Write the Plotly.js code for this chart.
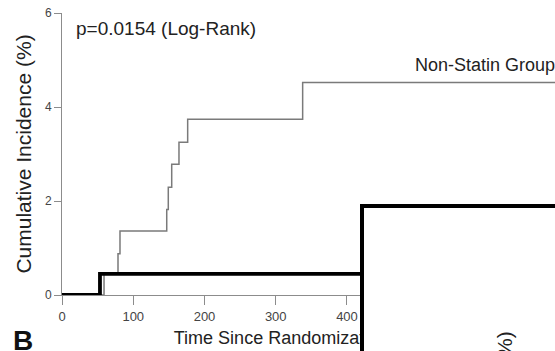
<!DOCTYPE html>
<html>
<head>
<meta charset="utf-8">
<script src="https://cdn.plot.ly/plotly-3.0.1.min.js"></script>
<style>
  html, body { margin: 0; padding: 0; background: #ffffff; }
  #chart { width: 555px; height: 351px; }
</style>
</head>
<body>
<div id="chart"></div>
<script>
// Non-Statin Group: step times (days) and cumulative incidence (%)
const nonStatinDays = [0, 59, 78.6, 81.4, 147, 149.2, 154, 164.2, 176.4, 337.8, 692];
const nonStatinPct  = [0, 0.45, 0.88, 1.36, 1.82, 2.29, 2.78, 3.25, 3.74, 4.52, 4.52];
// Statin Group
const statinDays = [0, 53.3, 692];
const statinPct  = [0, 0.45, 0.45];

const xTicks = [0, 100, 200, 300, 400, 500, 600];
const yTicks = [0, 2, 4, 6];

const pText = "p=0.0154 (Log-Rank)";
const groupLabel = "Non-Statin Group";
const xTitle = "Time Since Randomization (days)";
const yTitle = "Cumulative Incidence (%)";
const panelLabel = "B";

const traces = [
  {
    x: nonStatinDays, y: nonStatinPct, type: 'scatter', mode: 'lines',
    line: { shape: 'hv', color: '#7a7a7a', width: 1.5 },
    name: 'Non-Statin Group', hoverinfo: 'skip'
  },
  {
    x: statinDays, y: statinPct, type: 'scatter', mode: 'lines',
    line: { shape: 'hv', color: '#000000', width: 3.8 },
    name: 'Statin Group', hoverinfo: 'skip'
  }
];

const W = 555, H = 351;
const L = 62, R = 0, T = 13, B = 56;
const pw = W - L - R, ph = H - T - B;
function px(xp) { return (xp - L) / pw; }
function py(yp) { return (H - B - yp) / ph; }

const layout = {
  width: W, height: H,
  margin: { l: L, r: R, t: T, b: B, pad: 0 },
  paper_bgcolor: '#ffffff', plot_bgcolor: '#ffffff',
  showlegend: false,
  font: { family: '"Liberation Sans", Arial, sans-serif', color: '#333333' },
  xaxis: {
    range: [0, 692], tickvals: xTicks, ticktext: xTicks.map(String),
    ticks: 'outside', ticklen: 9, tickcolor: '#8c8c8c', tickwidth: 1,
    showline: true, linecolor: '#8c8c8c', linewidth: 1,
    showgrid: false, zeroline: false,
    tickfont: { family: '"Liberation Sans Narrow", "Liberation Sans", Arial, sans-serif', size: 13, color: '#444444' },
    title: { text: xTitle, font: { size: 18, color: '#222222' }, standoff: 8 },
    automargin: false, fixedrange: true
  },
  yaxis: {
    range: [0, 6], tickvals: yTicks, ticktext: yTicks.map(String),
    ticks: 'outside', ticklen: 7, tickcolor: '#8c8c8c', tickwidth: 1,
    showline: true, linecolor: '#8c8c8c', linewidth: 1,
    showgrid: false, zeroline: false,
    tickfont: { size: 12, color: '#444444' },
    title: { text: yTitle, font: { size: 21, color: '#222222' }, standoff: 7 },
    automargin: false, fixedrange: true
  },
  annotations: [
    { text: pText, xref: 'paper', yref: 'paper', x: px(74), y: py(28),
      xanchor: 'left', yanchor: 'middle', showarrow: false,
      font: { size: 19, color: '#222222' } },
    { text: groupLabel, xref: 'paper', yref: 'paper', x: px(413), y: py(65),
      xanchor: 'left', yanchor: 'middle', showarrow: false,
      font: { size: 18, color: '#222222' } },
    { text: '<b>' + panelLabel + '</b>', xref: 'paper', yref: 'paper', x: px(11), y: py(340),
      xanchor: 'left', yanchor: 'middle', showarrow: false,
      font: { size: 28, color: '#111111' } },
    { text: ' ', xref: 'paper', yref: 'paper', x: px(360), y: py(203.5),
      xanchor: 'left', yanchor: 'top', showarrow: false,
      width: 400, height: 300, bgcolor: '#ffffff',
      bordercolor: '#000000', borderwidth: 4, borderpad: 0 },
    { text: yTitle, xref: 'paper', yref: 'paper', x: px(504), y: py(330),
      xanchor: 'center', yanchor: 'top', showarrow: false, textangle: -90,
      font: { size: 21, color: '#222222' } }
  ]
};

Plotly.newPlot('chart', traces, layout, { staticPlot: true, displayModeBar: false });
</script>
</body>
</html>
